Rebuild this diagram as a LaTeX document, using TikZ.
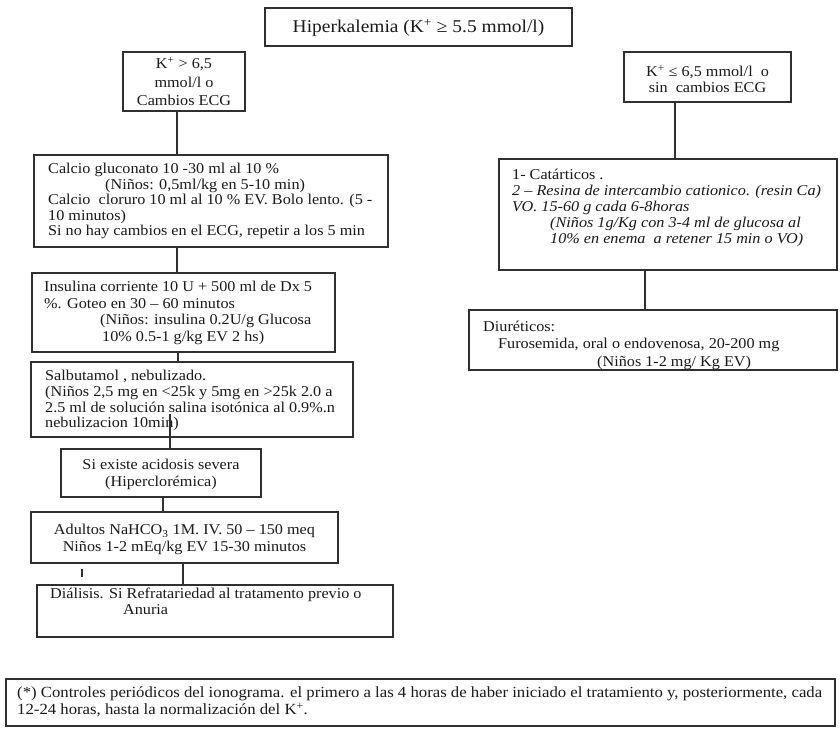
\documentclass[tikz,border=0pt]{standalone}
\usepackage{fontspec}
\setmainfont[FakeStretch=1.08]{Liberation Serif}
\definecolor{linec}{HTML}{303030}
\definecolor{txt}{HTML}{1A1A1A}
\newcommand\mkbox[5]{\node[box, minimum width={#4-#2}, minimum height={#5-#3}] (#1) at ({(#2+#4)/2},{(#3+#5)/2}) {};}
\tikzset{
  box/.style={draw=linec, line width=1.3pt, inner sep=0pt, outer sep=0pt, fill=white},
  conn/.style={draw=linec, line width=1.3pt},
  txl/.style={anchor=north west, inner sep=0pt, align=left, text=txt, font=\fontsize{15}{15.5}\selectfont},
  txc/.style={anchor=center, inner sep=0pt, align=center, text=txt, font=\fontsize{15}{16.5}\selectfont}
}
\begin{document}
\begin{tikzpicture}[x=1pt,y=-1pt]
\fill[white] (0,0) rectangle (840,728);
\useasboundingbox (0,0) rectangle (840,728);

% boxes
\mkbox{title}{265}{8}{572}{46}
\mkbox{hi}{123}{52}{245}{111}
\mkbox{lo}{624}{52}{791}{102}
\mkbox{calc}{34}{155}{388}{247}
\mkbox{ins}{32}{273}{335}{352}
\mkbox{salb}{31}{362}{353}{437}
\mkbox{acid}{61}{449}{261}{497}
\mkbox{nah}{31}{512}{338}{563}
\mkbox{dial}{37}{585}{393}{637}
\mkbox{cat}{499}{159}{837}{270}
\mkbox{diu}{469}{310}{837}{370}
\mkbox{foot}{6}{679}{835}{726}

% texts
\node[txc, font=\fontsize{18}{20}\selectfont] (ttitle) at ([yshift=-1pt]title.center) {Hiperkalemia (K\textsuperscript{+} ≥ 5.5 mmol/l)};
\node[txc, font=\fontsize{15}{18.5}\selectfont] (thi) at (hi.center) {K\textsuperscript{+} > 6,5\\ mmol/l o\\ Cambios ECG};
\node[txc, font=\fontsize{15}{16}\selectfont] (tlo) at ([yshift=-2pt]lo.center) {K\textsuperscript{+} ≤ 6,5 mmol/l\ \ o\\ sin\ \ cambios ECG};

\node[txl] (tcalc) at (48,162.6) {\strut Calcio gluconato 10 -30 ml al 10 \%\\
\hspace*{57pt}(Niños: 0,5ml/kg en 5-10 min)\\
Calcio\ \ cloruro 10 ml al 10 \% EV. Bolo lento. (5 -\\
10 minutos)\\
Si no hay cambios en el ECG, repetir a los 5 min};

\node[txl, font=\fontsize{15}{16.6}\selectfont] (tins) at (44,279.6) {\strut Insulina corriente 10 U + 500 ml de Dx 5\\
\%. Goteo en 30 – 60 minutos\\
\hspace*{56pt}(Niños: insulina 0.2U/g Glucosa\\
\hspace*{58pt}10\% 0.5-1 g/kg EV 2 hs)};

\node[txl, font=\fontsize{15}{15.7}\selectfont] (tsalb) at (45,369.6) {\strut Salbutamol , nebulizado.\\
(Niños 2,5 mg en <25k y 5mg en >25k 2.0 a\\
2.5 ml de solución salina isotónica al 0.9\%.n\\
nebulizacion 10min)};

\node[txc] (tacid) at ([yshift=-1.5pt]acid.center) {Si existe acidosis severa\\ (Hiperclorémica)};
\node[txc] (tnah) at ([yshift=-2pt]nah.center) {Adultos NaHCO\textsubscript{3} 1M. IV. 50 – 150 meq\\ Niños 1-2 mEq/kg EV 15-30 minutos};

\node[txl, font=\fontsize{15}{16}\selectfont] (tdial) at (50,586.6) {\strut Diálisis. Si Refratariedad al tratamento previo o\\
\hspace*{73pt}Anuria};

\node[txl, font=\fontsize{15}{16}\selectfont] (tcat) at (512,167.6) {\strut 1- Catárticos .\\
\textit{2 – Resina de intercambio cationico. (resin Ca)}\\
\textit{VO. 15-60 g cada 6-8horas}\\
\hspace*{38pt}\textit{(Niños 1g/Kg con 3-4 ml de glucosa al}\\
\hspace*{38pt}\textit{10\% en enema\ \ a retener 15 min o VO)}};

\node[txl, font=\fontsize{15}{17.5}\selectfont] (tdiu) at (483,318.6) {\strut Diuréticos:\\
\hspace*{15pt}Furosemida, oral o endovenosa, 20-200 mg\\
\hspace*{114pt}(Niños 1-2 mg/ Kg EV)};

\node[txl, font=\fontsize{15.5}{15.5}\selectfont] (tfoot) at (17,686.6) {\strut (*) Controles periódicos del ionograma. el primero a las 4 horas de haber iniciado el tratamiento y, posteriormente, cada\\
12-24 horas, hasta la normalización del K\textsuperscript{+}.};

% connectors
\coordinate (salbx) at (170,414);
\draw[conn] (177,0 |- hi.south) -- (177,0 |- calc.north);
\draw[conn] (177,0 |- calc.south) -- (177,0 |- ins.north);
\draw[conn] (178,0 |- ins.south) -- (178,0 |- salb.north);
\draw[conn] (salbx) -- (salbx |- acid.north);
\draw[conn] (163,0 |- acid.south) -- (163,0 |- nah.north);
\draw[conn] (183,0 |- nah.south) -- (183,0 |- dial.north);
\draw[draw=linec, line width=2.4pt] (82,569) -- (82,577);
\draw[conn] (675,0 |- lo.south) -- (675,0 |- cat.north);
\draw[conn] (645,0 |- cat.south) -- (645,0 |- diu.north);
\end{tikzpicture}
\end{document}
